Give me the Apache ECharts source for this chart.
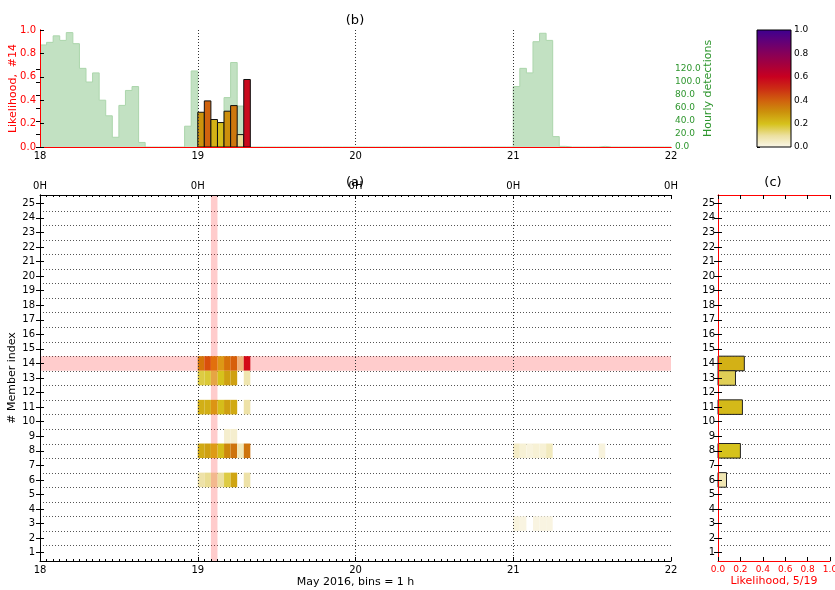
<!DOCTYPE html>
<html><head><meta charset="utf-8">
<script src="https://cdn.jsdelivr.net/npm/echarts@6/dist/echarts.min.js"></script>
<style>html,body{margin:0;padding:0;background:#fff}#c{width:835px;height:590px}</style>
</head><body><div id="c"></div>
<script>
// ---------------- data ----------------
const dayLabels = ['18', '19', '20', '21', '22'];
const topDayLabel = '0H';
const memberIndex = [1,2,3,4,5,6,7,8,9,10,11,12,13,14,15,16,17,18,19,20,21,22,23,24,25];
const detectionTicks = [0, 20, 40, 60, 80, 100, 120];

// hourly detections, 96 hourly bins from May 18 00h to May 22 00h
const hourlyDetections = [
  157, 161, 171, 164, 176, 159, 121, 100, 114, 72, 48, 15,
  64, 87, 93, 7, 0, 0, 0, 0, 0, 0, 32, 117,
  0, 0, 0, 0, 76, 130, 63, 0, 0, 0, 0, 0,
  0, 0, 0, 0, 0, 0, 0, 0, 0, 0, 0, 0,
  0, 0, 0, 0, 0, 0, 0, 0, 0, 0, 0, 0,
  0, 0, 0, 0, 0, 0, 0, 0, 0, 0, 0, 0,
  93, 121, 114, 162, 175, 164, 16, 1, 0, 0, 0, 0,
  0, 1, 0, 0, 0, 0, 0, 0, 0, 0, 0, 0
];

// likelihood cells per member: [hour bin, likelihood]
const member14Cells = [[24,0.297],[25,0.394],[26,0.235],[27,0.209],[28,0.306],[29,0.354],[30,0.106],[31,0.577]];
const member13Cells = [[24,0.17],[25,0.18],[26,0.156],[27,0.20],[28,0.27],[29,0.27],[31,0.08]];
const member11Cells = [[24,0.24],[25,0.24],[26,0.218],[27,0.21],[28,0.27],[29,0.25],[31,0.09]];
const member9Cells  = [[28,0.04],[29,0.04]];
const member8Cells  = [[24,0.25],[25,0.27],[26,0.20],[27,0.21],[28,0.32],[29,0.36],[30,0.07],[31,0.36],
                       [72,0.05],[73,0.03],[74,0.02],[75,0.03],[76,0.03],[77,0.06],[85,0.02]];
const member6Cells  = [[24,0.09],[25,0.11],[26,0.076],[27,0.10],[28,0.17],[29,0.26],[31,0.09]];
const member3Cells  = [[72,0.02],[73,0.015],[75,0.015],[76,0.015],[77,0.015]];

const highlightRow = 14;   // member #14
const selectedHour = 26;   // 19 May 02h bin

// colormap
const cmapStops  = [0, 0.1, 0.2, 0.3, 0.4, 0.5, 0.6, 0.7, 0.8, 0.9, 1.0];
const cmapColors = ['#fbf8ec','#ece0a0','#d6c21c','#cc920c','#d0600e','#cc2c14','#c80020','#a6003c','#86005a','#620078','#3c0090'];
const colorbarRange = [0, 1];

// ---------------- derived ----------------
const heatCells = [[14, member14Cells],[13, member13Cells],[11, member11Cells],[9, member9Cells],
                   [8, member8Cells],[6, member6Cells],[3, member3Cells]]
  .flatMap(([row, cells]) => cells.map(([h, v]) => [h, row, v]));
const panelC = heatCells.filter(c => c[0] === selectedHour).map(c => [c[2], c[1]]);
const stepData = hourlyDetections.flatMap((v, h) => [[h, v], [h + 1, v]]);
const halfRowLines = memberIndex.slice(0, -1).map(r => [r + 0.5]);

const FONT = 'DejaVu Sans';
const RED = '#ff0000';
const GREEN = '#2e962e';
const YMIN = 0.43, YMAX = 25.57;

function rectFromTo(api, a, b) {
  const p0 = api.coord(a), p1 = api.coord(b);
  return { x: Math.min(p0[0], p1[0]), y: Math.min(p0[1], p1[1]),
           width: Math.abs(p1[0] - p0[0]), height: Math.abs(p1[1] - p0[1]) };
}
function hLine(params, api) {
  const cs = params.coordSys;
  const y = Math.round(api.coord([0, api.value(0)])[1]) + 0.5;
  return { type: 'line', shape: { x1: cs.x, y1: y, x2: cs.x + cs.width, y2: y },
           style: { stroke: '#555', lineWidth: 1, lineDash: [1, 2] }, silent: true };
}

const tickIn = (len) => ({ show: true, inside: true, length: len, lineStyle: { color: '#000', width: 1 } });
const lbl = (extra) => Object.assign({ fontFamily: FONT, fontSize: 10, color: '#000' }, extra);
const titleStyle = { fontSize: 13, fontWeight: 'normal', fontFamily: FONT, color: '#000' };
const dotted = { color: '#333', width: 1, type: [1, 2] };

const chart = echarts.init(document.getElementById('c'));
chart.setOption({
  animation: false,
  textStyle: { fontFamily: FONT },
  title: [
    { text: '(b)', left: 350, top: 9, textAlign: 'center', textStyle: titleStyle },
    { text: '(a)', left: 350, top: 171, textAlign: 'center', textStyle: titleStyle },
    { text: '(c)', left: 768, top: 171, textAlign: 'center', textStyle: titleStyle }
  ],
  grid: [
    { left: 40, top: 30, width: 631, height: 117, outerBoundsMode: 'none', containLabel: false },
    { left: 757, top: 30, width: 34, height: 117, outerBoundsMode: 'none', containLabel: false },
    { left: 40, top: 195, width: 631, height: 366, outerBoundsMode: 'none', containLabel: false },
    { left: 718, top: 195, width: 112, height: 366, outerBoundsMode: 'none', containLabel: false }
  ],
  xAxis: [
    { gridIndex: 0, type: 'value', min: 0, max: 96, interval: 24, position: 'bottom', z: 10,
      axisLine: { show: true, lineStyle: { color: RED, width: 1 } },
      axisTick: { show: false },
      axisLabel: lbl({ margin: 4, formatter: v => dayLabels[Math.round(v / 24)] }),
      splitLine: { show: true, showMinLine: false, showMaxLine: false, lineStyle: dotted } },
    { gridIndex: 0, type: 'value', min: 0, max: 96, position: 'top', z: 10,
      axisLine: { show: true, lineStyle: { color: RED, width: 1 } },
      axisTick: { show: false }, axisLabel: { show: false }, splitLine: { show: false } },
    { gridIndex: 1, type: 'value', min: 0, max: 1, show: false },
    { gridIndex: 2, type: 'value', min: 0, max: 96, interval: 24, position: 'bottom', z: 10,
      axisLine: { show: true, lineStyle: { color: '#000', width: 1 } },
      axisTick: tickIn(4),
      minorTick: { show: true, splitNumber: 24, length: 2, lineStyle: { color: '#000', width: 1 } },
      axisLabel: lbl({ margin: 4, formatter: v => dayLabels[Math.round(v / 24)] }),
      splitLine: { show: true, showMinLine: false, showMaxLine: false, lineStyle: dotted },
      name: 'May 2016, bins = 1 h', nameLocation: 'middle', nameGap: 16, nameMoveOverlap: false,
      nameTextStyle: { fontFamily: FONT, fontSize: 11, color: '#000' } },
    { gridIndex: 2, type: 'value', min: 0, max: 96, interval: 24, position: 'top', z: 10,
      axisLine: { show: true, lineStyle: { color: '#000', width: 1 } },
      axisTick: tickIn(4),
      minorTick: { show: true, splitNumber: 24, length: 2, lineStyle: { color: '#000', width: 1 } },
      axisLabel: lbl({ margin: 4, formatter: () => topDayLabel }),
      splitLine: { show: false } },
    { gridIndex: 3, type: 'value', min: 0, max: 1, interval: 0.2, position: 'bottom', z: 10,
      axisLine: { show: true, lineStyle: { color: RED, width: 1 } },
      axisTick: tickIn(4),
      axisLabel: lbl({ fontSize: 9, color: RED, margin: 4, formatter: v => v.toFixed(1) }),
      splitLine: { show: false },
      name: 'Likelihood, 5/19', nameLocation: 'middle', nameGap: 15, nameMoveOverlap: false,
      nameTextStyle: { fontFamily: FONT, fontSize: 11, color: RED } },
    { gridIndex: 3, type: 'value', min: 0, max: 1, interval: 0.2, position: 'top', z: 10,
      axisLine: { show: true, lineStyle: { color: RED, width: 1 } },
      axisTick: tickIn(4), axisLabel: { show: false }, splitLine: { show: false } }
  ],
  yAxis: [
    { gridIndex: 0, type: 'value', min: 0, max: 1, interval: 0.2, position: 'left', z: 10,
      axisLine: { show: true, lineStyle: { color: RED, width: 1 } },
      axisTick: tickIn(4),
      axisLabel: lbl({ color: RED, margin: 4, formatter: v => v.toFixed(1) }),
      splitLine: { show: false },
      name: 'Likelihood,  #14', nameLocation: 'middle', nameGap: 21, nameRotate: 90, nameMoveOverlap: false,
      nameTextStyle: { fontFamily: FONT, fontSize: 11, color: RED } },
    { gridIndex: 0, type: 'value', min: 0, max: 180, position: 'right', z: 10,
      axisLine: { show: true, lineStyle: { color: RED, width: 1 } },
      axisTick: Object.assign(tickIn(4), { customValues: detectionTicks }),
      axisLabel: lbl({ fontSize: 9, color: GREEN, margin: 4, customValues: detectionTicks, formatter: v => v.toFixed(1) }),
      splitLine: { show: false },
      name: 'Hourly detections', nameLocation: 'middle', nameGap: 32, nameRotate: 90, nameMoveOverlap: false,
      nameTextStyle: { fontFamily: FONT, fontSize: 11, color: GREEN } },
    { gridIndex: 1, type: 'value', min: 0, max: 1, interval: 0.2, position: 'right',
      axisLine: { show: false },
      axisTick: { show: true, inside: false, length: 3, lineStyle: { color: '#000' } },
      axisLabel: lbl({ fontSize: 9, margin: 3, formatter: v => v.toFixed(1) }),
      splitLine: { show: false } },
    { gridIndex: 2, type: 'value', min: YMIN, max: YMAX, position: 'left', z: 10,
      axisLine: { show: true, lineStyle: { color: '#000', width: 1 } },
      axisTick: Object.assign(tickIn(4), { customValues: memberIndex }),
      axisLabel: lbl({ margin: 5, customValues: memberIndex, formatter: v => String(v) }),
      splitLine: { show: false },
      name: '# Member index', nameLocation: 'middle', nameGap: 22, nameRotate: 90, nameMoveOverlap: false,
      nameTextStyle: { fontFamily: FONT, fontSize: 11, color: '#000' } },
    { gridIndex: 2, type: 'value', min: YMIN, max: YMAX, position: 'right', z: 10,
      axisLine: { show: true, lineStyle: { color: '#000', width: 1 } },
      axisTick: Object.assign(tickIn(4), { customValues: memberIndex }),
      axisLabel: { show: false }, splitLine: { show: false } },
    { gridIndex: 3, type: 'value', min: YMIN, max: YMAX, position: 'left', z: 10,
      axisLine: { show: true, lineStyle: { color: RED, width: 1 } },
      axisTick: Object.assign(tickIn(4), { customValues: memberIndex }),
      axisLabel: lbl({ margin: 3, customValues: memberIndex, formatter: v => String(v) }),
      splitLine: { show: false } },
    { gridIndex: 3, type: 'value', min: YMIN, max: YMAX, position: 'right', z: 10,
      axisLine: { show: true, lineStyle: { color: RED, width: 1 } },
      axisTick: Object.assign(tickIn(4), { customValues: memberIndex }),
      axisLabel: { show: false }, splitLine: { show: false } }
  ],
  visualMap: [
    { type: 'continuous', show: false, min: 0, max: 1, dimension: 1, seriesIndex: 1, inRange: { color: cmapColors } },
    { type: 'continuous', show: false, min: 0, max: 1, dimension: 2, seriesIndex: 4, inRange: { color: cmapColors } },
    { type: 'continuous', show: false, min: 0, max: 1, dimension: 0, seriesIndex: 7, inRange: { color: cmapColors } }
  ],
  series: [
    // 0: hourly detections histogram (stepfilled)
    { type: 'line', xAxisIndex: 0, yAxisIndex: 1, data: stepData, symbol: 'none', silent: true,
      lineStyle: { color: '#acd6ac', width: 1 },
      areaStyle: { color: '#c2e1c2', opacity: 1 }, z: 2 },
    // 1: likelihood bars member #14
    { type: 'custom', xAxisIndex: 0, yAxisIndex: 0, data: member14Cells, z: 3,
      renderItem: (params, api) => ({ type: 'rect',
        shape: rectFromTo(api, [api.value(0), 0], [api.value(0) + 1, api.value(1)]),
        style: { fill: api.visual('color'), stroke: '#111', lineWidth: 1 } }) },
    // 2: colorbar
    { type: 'custom', xAxisIndex: 2, yAxisIndex: 2, data: [colorbarRange],
      renderItem: (params, api) => ({ type: 'rect',
        shape: rectFromTo(api, [0, api.value(0)], [1, api.value(1)]),
        style: { fill: new echarts.graphic.LinearGradient(0, 1, 0, 0,
                   cmapStops.map((s, i) => ({ offset: s, color: cmapColors[i] }))),
                 stroke: '#000', lineWidth: 1 } }) },
    // 3: dotted member separators (a)
    { type: 'custom', xAxisIndex: 3, yAxisIndex: 3, data: halfRowLines, z: 1, renderItem: hLine },
    // 4: heatmap cells
    { type: 'custom', xAxisIndex: 3, yAxisIndex: 3, data: heatCells, z: 2,
      renderItem: (params, api) => ({ type: 'rect',
        shape: rectFromTo(api, [api.value(0), api.value(1) - 0.5], [api.value(0) + 1, api.value(1) + 0.5]),
        style: { fill: api.visual('color') } }) },
    // 5: highlight bands
    { type: 'custom', xAxisIndex: 3, yAxisIndex: 3, data: [[selectedHour, highlightRow]], z: 4, silent: true,
      renderItem: (params, api) => {
        const cs = params.coordSys;
        const colRect = rectFromTo(api, [api.value(0), api.value(1)], [api.value(0) + 1, api.value(1)]);
        const rowRect = rectFromTo(api, [0, api.value(1) - 0.5], [1, api.value(1) + 0.5]);
        return { type: 'group', children: [
          { type: 'rect', shape: { x: cs.x, y: rowRect.y, width: cs.width, height: rowRect.height },
            style: { fill: 'rgba(255,0,0,0.2)' } },
          { type: 'rect', shape: { x: colRect.x, y: cs.y, width: colRect.width, height: cs.height },
            style: { fill: 'rgba(255,0,0,0.2)' } }
        ] };
      } },
    // 6: dotted member separators (c)
    { type: 'custom', xAxisIndex: 5, yAxisIndex: 5, data: halfRowLines, z: 1, renderItem: hLine },
    // 7: likelihood at selected hour (c)
    { type: 'custom', xAxisIndex: 5, yAxisIndex: 5, data: panelC, z: 3,
      renderItem: (params, api) => ({ type: 'rect',
        shape: rectFromTo(api, [0, api.value(1) - 0.5], [api.value(0), api.value(1) + 0.5]),
        style: { fill: api.visual('color'), stroke: '#222', lineWidth: 1 } }) }
  ]
});
</script>
</body></html>
